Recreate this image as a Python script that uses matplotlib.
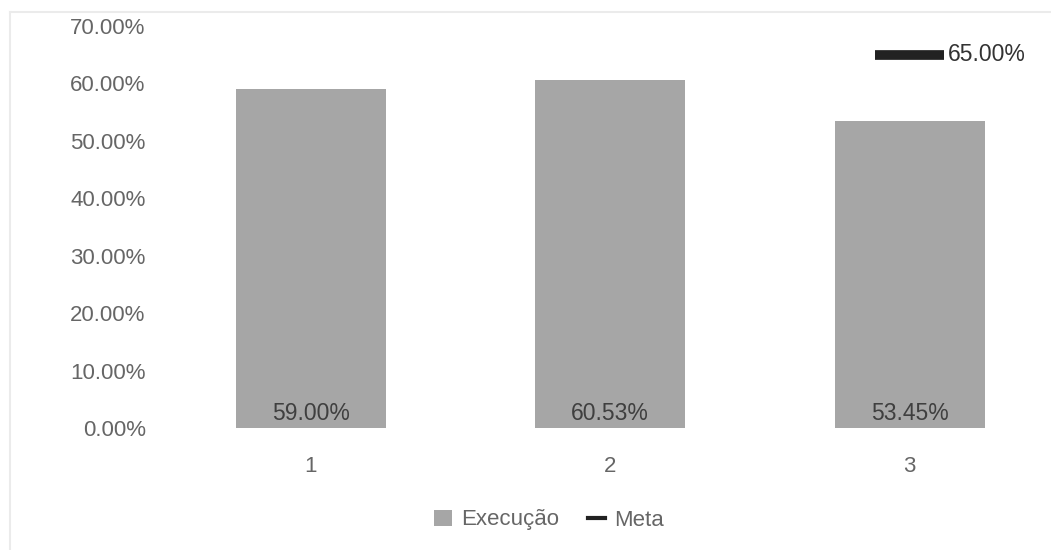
import matplotlib.pyplot as plt
from matplotlib.patches import Patch
from matplotlib.lines import Line2D

plt.rcParams['font.family'] = ['Liberation Sans', 'DejaVu Sans']

categories = ['1', '2', '3']
execucao = [59.00, 60.53, 53.45]
meta_category = 3
meta_value = 65.00
y_ticks = [0, 10, 20, 30, 40, 50, 60, 70]

W, H = 1051, 550
fig = plt.figure(figsize=(W / 100, H / 100), dpi=100)
ax = fig.add_axes([161 / W, 122 / H, (W - 161) / W, 402 / H])

xs = list(range(1, len(categories) + 1))
ax.bar(xs, execucao, width=0.5, color='#a6a6a6', zorder=2)
for x, v in zip(xs, execucao):
    ax.text(x, 0.6, f'{v:.2f}%', ha='center', va='bottom', fontsize=16.5,
            color='#3f3f3f')

# meta shown as a short dash at its category
ax.plot([meta_category - 0.115, meta_category + 0.115], [meta_value, meta_value],
        color='#222222', linewidth=7, solid_capstyle='butt', zorder=3)
ax.text(meta_category + 0.128, meta_value, f'{meta_value:.2f}%', ha='left',
        va='center', fontsize=16.5, color='#333333')

ax.set_xlim(0.5, 0.5 + (W - 161) / 299.5)
ax.set_ylim(0, 70)
ax.set_xticks(xs)
ax.set_xticklabels(categories)
ax.set_yticks(y_ticks)
ax.set_yticklabels([f'{t:.2f}%' for t in y_ticks])
ax.tick_params(axis='both', length=0, labelsize=16, labelcolor='#666666')
ax.tick_params(axis='x', pad=20)
ax.tick_params(axis='y', pad=11)
for lbl in ax.get_yticklabels():
    lbl.set_va('center_baseline')
for s in ax.spines.values():
    s.set_visible(False)

# faint frame on top and left of the chart area
fig.add_artist(Line2D([10 / W, 1], [1 - 12 / H, 1 - 12 / H], color='#ebebeb', lw=1.5))
fig.add_artist(Line2D([10 / W, 10 / W], [0, 1 - 12 / H], color='#ebebeb', lw=1.5))

handles = [Patch(facecolor='#a6a6a6', edgecolor='none', label='Execução'),
           Line2D([0], [0], color='#222222', lw=3, label='Meta')]
fig.legend(handles=handles, loc='center', bbox_to_anchor=(549 / W, 30 / H), ncol=2,
           frameon=False, fontsize=16, labelcolor='#666666', handlelength=0.8,
           handletextpad=0.4, columnspacing=1.3)

fig.savefig('out.png', dpi=100)
